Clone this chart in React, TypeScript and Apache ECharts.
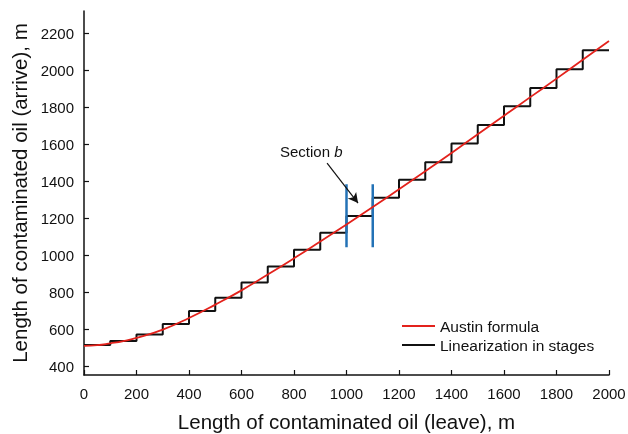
import React, { useEffect, useRef } from "react";
import * as echarts from "echarts";

const stageX = [0, 100, 200, 300, 400, 500, 600, 700, 800, 900, 1000, 1100, 1200, 1300, 1400, 1500, 1600, 1700, 1800, 1900, 2000];
const stageY = [517, 538, 574, 630, 700, 772, 855, 941, 1031, 1123, 1213, 1312, 1409, 1504, 1605, 1704, 1806, 1905, 2006, 2108, 2108];

const austinX = [0, 50, 100, 150, 200, 300, 400, 500, 600, 700, 800, 900, 1000, 1100, 1200, 1300, 1400, 1500, 1600, 1700, 1800, 1900, 2000];
const austinY = [512, 516, 526, 538, 555, 600, 663, 735, 812, 897, 985, 1076, 1168, 1262, 1358, 1455, 1553, 1655, 1755, 1855, 1955, 2057, 2158];

const sectionX = [1000, 1100];
const sectionY = [1045, 1385];

const arrowFrom = [926, 1499];
const arrowTo = [1044, 1283];

const yTicks = [400, 600, 800, 1000, 1200, 1400, 1600, 1800, 2000, 2200];

const FONT = "Liberation Sans, Arial, sans-serif";

export default function App() {
  const ref = useRef<HTMLDivElement>(null);
  useEffect(() => {
    if (!ref.current) return;
    const chart = echarts.init(ref.current, null, { renderer: "svg" });
    const sectionSeries = sectionX.map((x, i) => ({
      type: "line",
      name: "section" + i,
      data: [
        [x, sectionY[0]],
        [x, sectionY[1]],
      ],
      symbol: "none",
      lineStyle: { color: "#2372b6", width: 2.5 },
      z: 4,
      silent: true,
    }));
    chart.setOption({
      animation: false,
      textStyle: { fontFamily: FONT },
      grid: { left: 84, right: 19, top: 11, bottom: 59, containLabel: false, outerBoundsMode: "none" },
      legend: {
        orient: "vertical",
        left: 397,
        top: 313,
        itemWidth: 33,
        itemHeight: 2,
        itemGap: 3,
        icon: "rect",
        data: ["Austin formula", "Linearization in stages"],
        textStyle: { fontSize: 15.5, color: "#111", fontFamily: FONT },
      },
      xAxis: {
        type: "value",
        min: 0,
        max: 2000,
        interval: 200,
        name: "Length of contaminated oil (leave), m",
        nameLocation: "middle",
        nameGap: 36,
        nameTextStyle: { fontSize: 20.5, color: "#111", fontFamily: FONT },
        axisLine: { lineStyle: { color: "#111", width: 1.5 } },
        axisTick: { inside: true, length: 5, lineStyle: { color: "#111", width: 1.2 } },
        axisLabel: { fontSize: 15, color: "#111", margin: 11, fontFamily: FONT, formatter: (v: number) => String(v) },
        splitLine: { show: false },
      },
      yAxis: {
        type: "value",
        min: 355,
        max: 2320,
        name: "Length of contaminated oil (arrive), m",
        nameLocation: "middle",
        nameGap: 51,
        nameTextStyle: { fontSize: 20.5, color: "#111", fontFamily: FONT },
        axisLine: { show: true, lineStyle: { color: "#111", width: 1.5 } },
        axisTick: { show: true, inside: true, length: 5, customValues: yTicks, lineStyle: { color: "#111", width: 1.2 } },
        axisLabel: { fontSize: 15, color: "#111", margin: 10, customValues: yTicks, fontFamily: FONT, formatter: (v: number) => String(v) },
        splitLine: { show: false },
      },
      graphic: [
        {
          type: "text",
          left: 280,
          top: 144,
          style: {
            text: "Section {i|b}",
            fontSize: 15,
            fontFamily: FONT,
            fill: "#111",
            rich: { i: { fontStyle: "italic", fontSize: 15, fontFamily: FONT, fill: "#111" } },
          },
        },
      ],
      series: [
        {
          type: "line",
          name: "Linearization in stages",
          data: stageX.map((x, i) => [x, stageY[i]]),
          step: "end",
          symbol: "none",
          lineStyle: { color: "#111", width: 2 },
          itemStyle: { color: "#111" },
          z: 3,
        },
        {
          type: "line",
          name: "Austin formula",
          data: austinX.map((x, i) => [x, austinY[i]]),
          smooth: true,
          symbol: "none",
          lineStyle: { color: "#e3221c", width: 1.8 },
          itemStyle: { color: "#e3221c" },
          z: 5,
          markLine: {
            silent: true,
            symbol: ["none", "arrow"],
            symbolSize: [8, 10],
            label: { show: false },
            lineStyle: { color: "#111", width: 1.2, type: "solid" },
            data: [[{ coord: arrowFrom }, { coord: arrowTo }]],
          },
        },
        ...sectionSeries,
      ],
    });
    return () => chart.dispose();
  }, []);
  return <div ref={ref} style={{ position: "fixed", left: 0, top: 0, width: 628, height: 434 }} />;
}
